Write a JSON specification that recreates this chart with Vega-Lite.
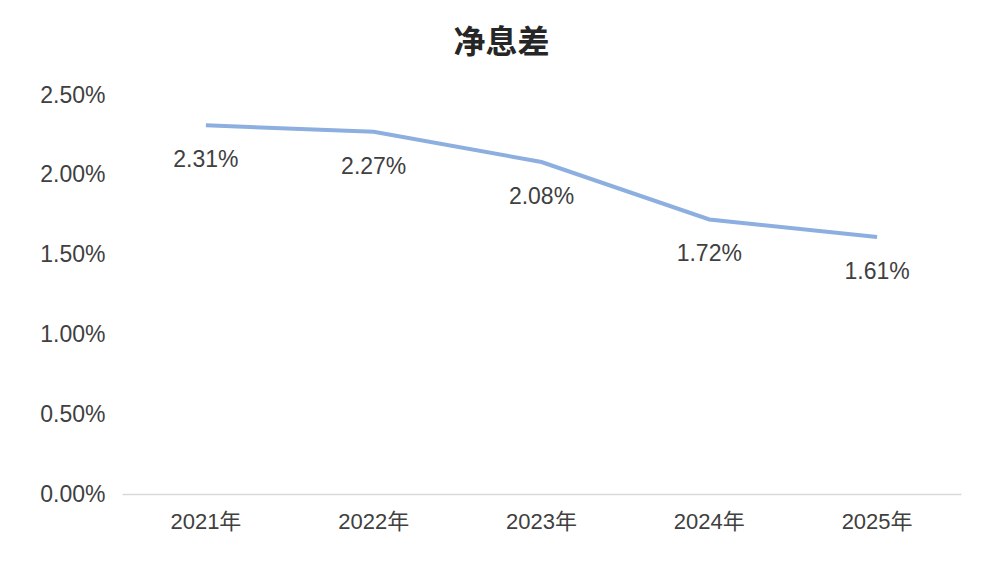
{
  "$schema": "https://vega.github.io/schema/vega-lite/v6.json",
  "width": 839,
  "height": 399,
  "autosize": {"type": "none"},
  "padding": {"left": 122, "top": 95, "right": 39, "bottom": 74},
  "background": "white",
  "config": {
    "view": {"stroke": null},
    "font": "Liberation Sans, Noto Sans CJK SC"
  },
  "title": {
    "text": "净息差",
    "font": "Noto Sans CJK SC",
    "fontSize": 32,
    "fontWeight": "bold",
    "color": "#262626",
    "anchor": "middle",
    "dx": -40,
    "offset": 24
  },
  "data": {
    "values": [
      {"year": "2021年", "nim": 0.0231, "label": "2.31%"},
      {"year": "2022年", "nim": 0.0227, "label": "2.27%"},
      {"year": "2023年", "nim": 0.0208, "label": "2.08%"},
      {"year": "2024年", "nim": 0.0172, "label": "1.72%"},
      {"year": "2025年", "nim": 0.0161, "label": "1.61%"}
    ]
  },
  "encoding": {
    "x": {
      "field": "year",
      "type": "ordinal",
      "sort": null,
      "scale": {"type": "band", "paddingInner": 0, "paddingOuter": 0},
      "axis": {
        "title": null,
        "labelAngle": 0,
        "ticks": false,
        "domainColor": "#d9d9d9",
        "domainWidth": 1.5,
        "labelFontSize": 22,
        "labelColor": "#404040",
        "labelPadding": 17,
        "labelFont": "Liberation Sans, Noto Sans CJK SC"
      }
    },
    "y": {
      "field": "nim",
      "type": "quantitative",
      "scale": {"domain": [0, 0.025], "nice": false},
      "axis": {
        "title": null,
        "format": ".2%",
        "values": [0, 0.005, 0.01, 0.015, 0.02, 0.025],
        "grid": false,
        "domain": false,
        "ticks": false,
        "labelFontSize": 23,
        "labelColor": "#404040",
        "labelPadding": 17
      }
    }
  },
  "layer": [
    {
      "mark": {"type": "line", "color": "#8cafe0", "strokeWidth": 4}
    },
    {
      "mark": {"type": "text", "dy": 35, "fontSize": 23, "color": "#404040", "baseline": "middle"},
      "encoding": {"text": {"field": "label"}}
    }
  ]
}
